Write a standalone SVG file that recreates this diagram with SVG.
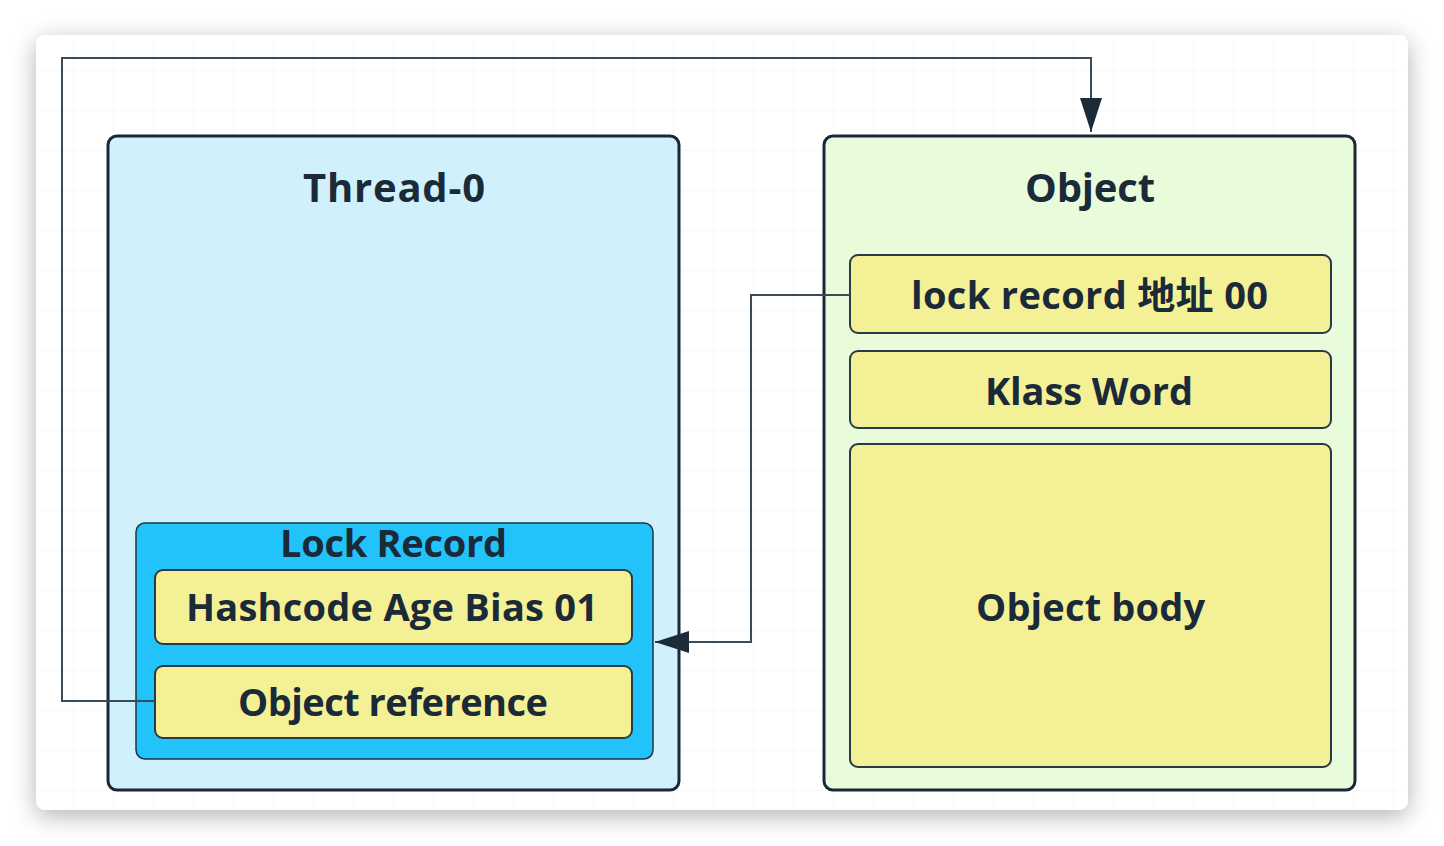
<svg xmlns="http://www.w3.org/2000/svg" width="1444" height="846" viewBox="0 0 1444 846">
  <defs>
    <filter id="shadow" x="-5%" y="-8%" width="110%" height="120%">
      <feDropShadow dx="0" dy="6" stdDeviation="12" flood-color="#000" flood-opacity="0.3"/>
    </filter>
    <pattern id="grid" x="33" y="30" width="40" height="40" patternUnits="userSpaceOnUse">
      <path d="M0 0 H40 M0 0 V40" fill="none" stroke="#eef2f4" stroke-width="1"/>
    </pattern>
    <marker id="arrow" viewBox="0 0 34 22" refX="34" refY="11" markerWidth="34" markerHeight="22" markerUnits="userSpaceOnUse" orient="auto">
      <path d="M0 0 L34 11 L0 22 Z" fill="#1c2b38"/>
    </marker>
    <style>
      .big { fill: #d0f0fc; stroke: #182838; stroke-width: 3; }
      .obj { fill: #e8fcdc; stroke: #182838; stroke-width: 3; }
      .lr { fill: #22c3fa; stroke: #1e3545; stroke-width: 1.5; }
      .cell { fill: #f4f096; stroke: #2a3a44; stroke-width: 2; }
      .t { font-family: "Open Sans", "Noto Sans CJK SC", sans-serif; font-weight: bold; fill: #1b2a38; text-anchor: middle; font-size: 38px; }
      .title { font-size: 40px; }
      .conn { fill: none; stroke: #3a4a56; stroke-width: 2; }
    </style>
  </defs>
  <rect width="1444" height="846" fill="#ffffff"/>
  <g id="card">
    <rect x="36" y="35" width="1372" height="775" rx="9" fill="#ffffff" filter="url(#shadow)"/>
    <rect x="40" y="39" width="1364" height="767" fill="url(#grid)"/>
  </g>
  <g id="thread0">
    <rect class="big" x="108" y="136" width="571" height="654" rx="9"/>
    <text class="t title" x="394" y="202" textLength="182" lengthAdjust="spacing">Thread-0</text>
  </g>
  <g id="object">
    <rect class="obj" x="824" y="136" width="531" height="654" rx="9"/>
    <text class="t title" x="1090" y="202" textLength="130" lengthAdjust="spacing">Object</text>
  </g>
  <g id="lock-record">
    <rect class="lr" x="136" y="523" width="517" height="236" rx="9"/>
    <text class="t" x="393.5" y="557" textLength="227" lengthAdjust="spacing">Lock Record</text>
  </g>
  <g id="hashcode">
    <rect class="cell" x="155" y="570" width="477" height="74" rx="8"/>
    <text class="t" x="392" y="621" textLength="412" lengthAdjust="spacing">Hashcode Age Bias 01</text>
  </g>
  <g id="object-reference">
    <rect class="cell" x="155" y="666" width="477" height="72" rx="8"/>
    <text class="t" x="393" y="716" textLength="310" lengthAdjust="spacing">Object reference</text>
  </g>
  <g id="lock-record-addr">
    <rect class="cell" x="850" y="255" width="481" height="78" rx="8"/>
    <text class="t" x="1089.5" y="309" textLength="357" lengthAdjust="spacing">lock record 地址 00</text>
  </g>
  <g id="klass-word">
    <rect class="cell" x="850" y="351" width="481" height="77" rx="8"/>
    <text class="t" x="1089" y="405" textLength="208" lengthAdjust="spacing">Klass Word</text>
  </g>
  <g id="object-body">
    <rect class="cell" x="850" y="444" width="481" height="323" rx="8"/>
    <text class="t" x="1090.5" y="621" textLength="229" lengthAdjust="spacing">Object body</text>
  </g>
  <g id="connectors">
    <path class="conn" d="M155 701 H62 V58 H1091 V132" marker-end="url(#arrow)"/>
    <path class="conn" d="M850 295 H751 V642 H655" marker-end="url(#arrow)"/>
  </g>
</svg>
